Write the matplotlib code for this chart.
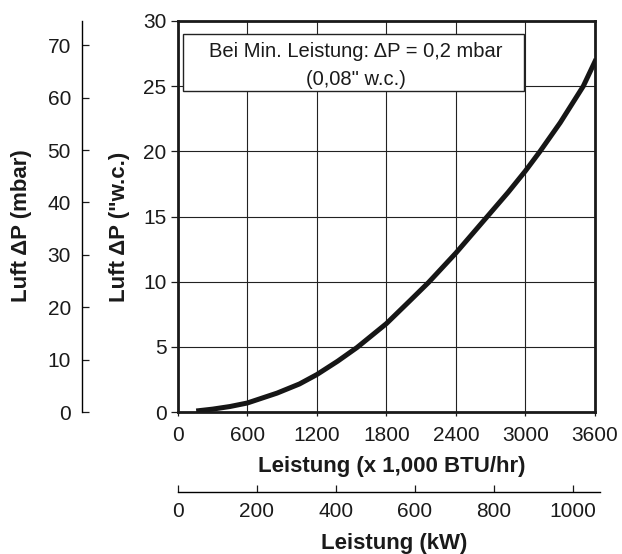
import matplotlib.pyplot as plt
from matplotlib.patches import Rectangle

plt.rcParams['font.family'] = ['Liberation Sans', 'DejaVu Sans']

# Dados
leistung_btu = [181, 300, 450, 600, 857, 1050, 1200, 1380, 1547, 1800, 2007, 2165,
                2400, 2671, 2850, 3000, 3126, 3300, 3499, 3600]
luft_dp_wc = [0.1, 0.22, 0.42, 0.69, 1.45, 2.15, 2.87, 3.9, 4.95, 6.78, 8.57, 9.95,
              12.2, 15.0, 16.85, 18.5, 20.0, 22.2, 25.0, 26.9]

x_ticks = [0, 600, 1200, 1800, 2400, 3000, 3600]
y_ticks = [0, 5, 10, 15, 20, 25, 30]
mbar_ticks = [0, 10, 20, 30, 40, 50, 60, 70]
kw_ticks = [0, 200, 400, 600, 800, 1000]

WC_TO_MBAR = 2.488
KW_TO_KBTU = 3.412

fig = plt.figure(figsize=(6.22, 5.54), dpi=100)
ax = fig.add_axes([0.2857, 0.2563, 0.6709, 0.7058])

ax.plot(leistung_btu, luft_dp_wc, color='#161616', lw=3.6, solid_joinstyle='round', zorder=3)
ax.set_xlim(0, 3600)
ax.set_ylim(0, 30)
ax.set_xticks(x_ticks)
ax.set_yticks(y_ticks)
ax.grid(True, color='#222222', lw=0.8)
for s in ax.spines.values():
    s.set_linewidth(2.0)
    s.set_color('#1a1a1a')
ax.tick_params(axis='y', direction='out', length=5, width=0.9, pad=3, labelsize=15, colors='#1a1a1a')
ax.tick_params(axis='x', direction='out', length=3, width=0.9, pad=7, labelsize=15, colors='#1a1a1a')

# Caixa de texto
ax.add_patch(Rectangle((46, 24.6), 2942, 4.4, facecolor='white', edgecolor='#222222', lw=1.0, zorder=4))
ax.text(1538, 27.2, 'Bei Min. Leistung: \u0394P = 0,2 mbar', ha='center', va='baseline',
        fontsize=14.5, color='#1a1a1a', zorder=5)
ax.text(1538, 25.1, '(0,08" w.c.)', ha='center', va='baseline',
        fontsize=14.5, color='#1a1a1a', zorder=5)

# Eixo secundário em mbar
ax_m = ax.twinx()
ax_m.set_ylim(0, 30 * WC_TO_MBAR)
ax_m.set_yticks(mbar_ticks)
ax_m.yaxis.set_ticks_position('left')
ax_m.spines['left'].set_position(('axes', -0.2293))
for k in ['top', 'right', 'bottom']:
    ax_m.spines[k].set_visible(False)
ax_m.spines['left'].set_linewidth(1.0)
ax_m.tick_params(axis='y', direction='in', length=5, width=0.9, pad=8, labelsize=15, colors='#1a1a1a')

# Eixo secundário em kW
ax_k = ax.twiny()
ax_k.set_xlim(0, 3600 / KW_TO_KBTU)
ax_k.set_xticks(kw_ticks)
ax_k.xaxis.set_ticks_position('bottom')
ax_k.spines['bottom'].set_position(('axes', -0.2046))
for k in ['top', 'right', 'left']:
    ax_k.spines[k].set_visible(False)
ax_k.spines['bottom'].set_linewidth(1.0)
ax_k.spines['bottom'].set_bounds(0, 1068)
ax_k.tick_params(axis='x', direction='in', length=5, width=0.9, pad=7, labelsize=15, colors='#1a1a1a')

# Rótulos
fig.text(21.5 / 622, 1 - 302 / 554, 'Luft \u0394P (mbar)', rotation=90, ha='center', va='bottom',
         fontsize=16, fontweight='bold', color='#1a1a1a')
fig.text(119 / 622, 1 - 302 / 554, 'Luft \u0394P ("w.c.)', rotation=90, ha='center', va='bottom',
         fontsize=16, fontweight='bold', color='#1a1a1a')
fig.text(391.7 / 622, 1 - 472 / 554, 'Leistung (x 1,000 BTU/hr)', ha='center', va='baseline',
         fontsize=16, fontweight='bold', color='#1a1a1a')
fig.text(394.5 / 622, 1 - 549 / 554, 'Leistung (kW)', ha='center', va='baseline',
         fontsize=16, fontweight='bold', color='#1a1a1a')

fig.savefig('out.png', dpi=100)
